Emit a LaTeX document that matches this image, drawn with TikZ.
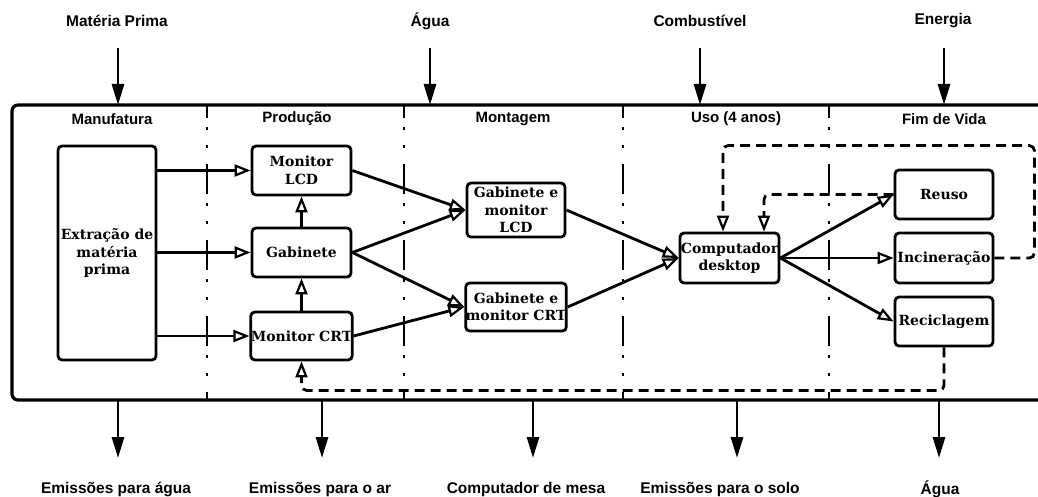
\documentclass[tikz,border=0pt]{standalone}
\usepackage{fontspec}
\setmainfont{DejaVu Serif}
\newfontfamily\labfont{Liberation Sans}
\usetikzlibrary{arrows.meta}

\tikzset{
  opentip/.tip={Triangle[open,line width=2.2pt,length=16pt,width=12pt]},
  box/.style={draw, line width=2.8pt, rounded corners=4pt, align=center,
    inner sep=0pt, font=\fontsize{14}{17.5}\selectfont\bfseries},
  conn/.style={line width=2.8pt, -opentip},
  dconn/.style={line width=2.8pt, dash pattern=on 10pt off 6pt,
    rounded corners=5pt, -opentip},
  ioarrow/.style={line width=2.8pt, -{Triangle[length=21pt,width=12pt]}},
  stage/.style={font=\labfont\fontsize{15}{18}\selectfont\bfseries},
  flow/.style={font=\labfont\fontsize{15.5}{18}\selectfont\bfseries},
  divider/.style={line width=2.8pt,
    dash pattern=on 30pt off 9pt on 3pt off 15pt on 3pt off 16pt, dash phase=18pt},
  frame/.style={line width=3.2pt, rounded corners=6pt}
}

\begin{document}
\begin{tikzpicture}[x=1pt, y=-1pt]
  \useasboundingbox (0,0) rectangle (1038,497);
  \clip (0,0) rectangle (1038,497);
  \fill[white] (0,0) rectangle (1038,497);

  % system boundary and life-cycle stages
  \draw[frame] (12,105) rectangle (1060,400);
  \foreach \x in {207,404,623,829}
    \draw[divider] (\x,106) -- (\x,399);

  \node[stage] (s1) at (112,119) {Manufatura};
  \node[stage] (s2) at (297,119) {Produção};
  \node[stage] (s3) at (513,119) {Montagem};
  \node[stage] (s4) at (736,119) {Uso (4 anos)};
  \node[stage] (s5) at (944,119) {Fim de Vida};

  % inputs
  \node[flow] (in1) at (117,21) {Matéria Prima};
  \node[flow] (in2) at (430,21) {Água};
  \node[flow] (in3) at (700,21) {Combustível};
  \node[flow] (in4) at (943,21) {Energia};
  \foreach \x/\n in {118/1,430/2,700/3,944/4} {
    \coordinate (ia\n) at (\x,48);
    \coordinate (ib\n) at (\x,105);
    \draw[ioarrow] (ia\n) -- (ib\n);
  }

  % outputs
  \node[flow] (out1) at (116,489) {Emissões para água};
  \node[flow] (out2) at (320,489) {Emissões para o ar};
  \node[flow] (out3) at (526,489) {Computador de mesa};
  \node[flow] (out4) at (720,489) {Emissões para o solo};
  \node[flow] (out5) at (940,489) {Água};
  \foreach \x/\n in {118/1,322/2,533/3,737/4,939/5} {
    \coordinate (oa\n) at (\x,400);
    \coordinate (ob\n) at (\x,458);
    \draw[ioarrow] (oa\n) -- (ob\n);
  }

  % process boxes
  \node[box, minimum width=98pt, minimum height=214pt] (ext) at (107,253)
    {Extração de\\matéria\\prima};
  \node[box, minimum width=99pt, minimum height=49pt] (lcd) at (301.5,170.5) {Monitor\\LCD};
  \node[box, minimum width=99pt, minimum height=49pt] (gab) at (301.5,252.5) {Gabinete};
  \node[box, minimum width=99pt, minimum height=48pt] (crt) at (301.5,336) {Monitor CRT};
  \node[box, minimum width=98pt, minimum height=54pt] (gelcd) at (516,210)
    {Gabinete e\\monitor\\LCD};
  \node[box, minimum width=98pt, minimum height=48pt] (gecrt) at (516,307)
    {Gabinete e\\monitor CRT};
  \node[box, minimum width=99pt, minimum height=50pt] (comp) at (729.5,258)
    {Computador\\desktop};
  \node[box, minimum width=98pt, minimum height=49pt] (reuso) at (944,194.5) {Reuso};
  \node[box, minimum width=98pt, minimum height=50pt] (incin) at (944,258) {Incineração};
  \node[box, minimum width=98pt, minimum height=49pt] (recic) at (944,321.5) {Reciclagem};

  % material flows
  \draw[conn] (ext.east |- lcd.west) -- (lcd.west);
  \draw[conn] (ext.east |- gab.west) -- (gab.west);
  \draw[conn] (ext.east |- crt.west) -- (crt.west);
  \draw[conn] (crt.north) -- (gab.south);
  \draw[conn] (gab.north) -- (lcd.south);
  \draw[conn] (lcd.east) -- (gelcd.west);
  \draw[conn] (gab.east) -- (gelcd.west);
  \draw[conn] (gab.east) -- (gecrt.west);
  \draw[conn] (crt.east) -- (gecrt.west);
  \draw[conn] (gelcd.east) -- (comp.west);
  \draw[conn] (gecrt.east) -- (comp.west);
  \draw[conn] (comp.east) -- (reuso.west);
  \draw[conn] (comp.east) -- (incin.west);
  \draw[conn] (comp.east) -- (recic.west);

  % end-of-life return loops
  \draw[dconn] (reuso.west) -| ([xshift=34.5pt]comp.north);
  \draw[dconn] (incin.east) -- ++(40,0) |- ([xshift=-6.5pt,yshift=86pt]comp.north)
    -- ([xshift=-6.5pt]comp.north);
  \draw[dconn] (recic.south) -- ++(0,43) -| (crt.south);
\end{tikzpicture}
\end{document}
